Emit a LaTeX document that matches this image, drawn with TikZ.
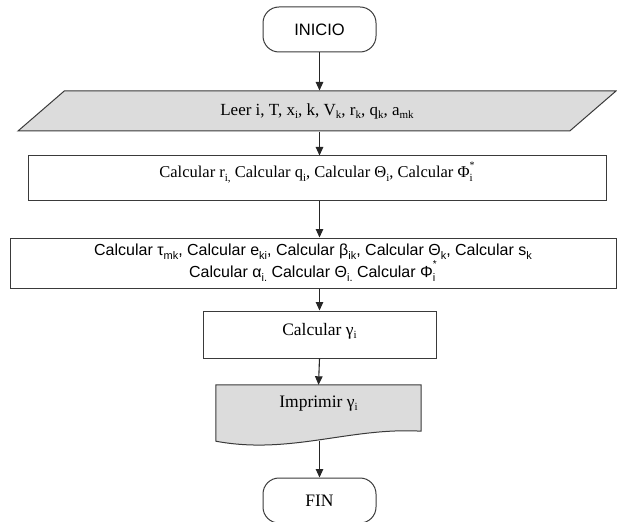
\documentclass[tikz,border=0pt]{standalone}
\usepackage{fontspec}
\setmainfont{Liberation Serif}
\setsansfont{Liberation Sans}
\usetikzlibrary{arrows.meta, positioning, shapes.geometric, calc}
\pgfdeclarelayer{bg}
\pgfsetlayers{bg,main}

\definecolor{boxgray}{HTML}{DCDCDC}
\definecolor{linegray}{HTML}{3A3A3A}
\newcommand{\sbs}[1]{\raisebox{-0.45ex}{\fontsize{11}{11}\selectfont #1}}
\newcommand{\phis}{Φ\rlap{\sbs{i}}\raisebox{1.2ex}{\fontsize{10}{10}\selectfont *}}

\begin{document}
\begin{tikzpicture}[x=1pt, y=-1pt,
  term/.style={draw=linegray, line width=1pt, rounded corners=16pt, minimum width=113pt, minimum height=45pt, inner sep=0pt},
  io/.style={trapezium, draw=linegray, fill=boxgray, line width=1pt, trapezium left angle=18.43, trapezium right angle=161.57, trapezium stretches body, minimum width=598pt, minimum height=40pt, inner sep=0pt},
  proc/.style={draw=linegray, line width=1pt, inner sep=0pt, align=center},
  edge/.style={-{Triangle[length=8.5pt, width=7.5pt]}, line width=1.1pt, draw=black!85},
  txt/.style={font=\fontsize{17}{20}\selectfont},
  stxt/.style={font=\sffamily\fontsize{16}{18}\selectfont}
]
\useasboundingbox (0,0) rectangle (617,521);

\node[term, stxt, font=\sffamily\fontsize{16.5}{18}\selectfont] (inicio) at (319.5,29.5) {INICIO};
\node[io, txt] (leer) at (317,111) {Leer i, T, x\sbs{i}, k, V\sbs{k}, r\sbs{k}, q\sbs{k}, a\sbs{mk}};
\node[proc, font=\fontsize{16.5}{20}\selectfont, minimum width=578pt, text height=22pt, text depth=22pt] (calcr) at (317,178)
  {Calcular r\sbs{i,} Calcular q\sbs{i}, Calcular Θ\sbs{i}, Calcular \phis};
\node[proc, stxt, minimum width=606pt, minimum height=50pt] (calctau) at (313,263)
  {Calcular τ\sbs{mk}, Calcular e\sbs{ki}, Calcular β\sbs{ik}, Calcular Θ\sbs{k}, Calcular s\sbs{k}\\
   Calcular α\sbs{i.} Calcular Θ\sbs{i.} Calcular \phis};
\node[proc, txt, font=\fontsize{17.5}{20}\selectfont, minimum width=233pt, text height=24pt, text depth=23pt] (calcg) at (319.5,334.5) {Calcular γ\sbs{i}};
\node[txt, font=\fontsize{17.5}{20}\selectfont, minimum width=205pt, inner sep=0pt, text height=22pt, text depth=24pt] (imp) at (318.5,408) {Imprimir γ\sbs{i}};
\node[term, txt, font=\fontsize{17.5}{20}\selectfont] (fin) at (319.5,500.5) {FIN};

% document shape behind the print node
\begin{pgfonlayer}{bg}
\draw[linegray, line width=1pt, fill=boxgray] (imp.south west) -- (imp.north west) -- (imp.north east) -- (imp.south east)
  .. controls (350,427) and (290,455) .. ($(imp.south west)+(0,10)$) -- cycle;
\end{pgfonlayer}
\coordinate (impout) at (319.5,441);

\draw[edge] (inicio.south) -- (inicio.south |- leer.north);
\draw[edge] (inicio.south |- leer.south) -- (inicio.south |- calcr.north);
\draw[edge] (inicio.south |- calcr.south) -- (inicio.south |- calctau.north);
\draw[edge] (inicio.south |- calctau.south) -- (calcg.north);
\draw[edge] (calcg.south) -- (imp.north);
\draw[edge] (impout) -- (fin.north);
\end{tikzpicture}
\end{document}
